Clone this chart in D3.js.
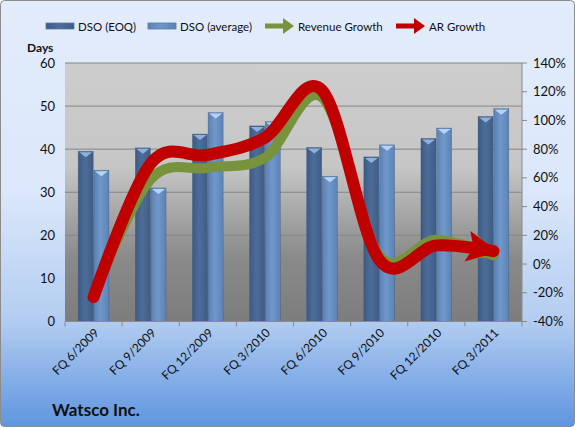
<!DOCTYPE html>
<html>
<head>
<meta charset="utf-8">
<script src="https://cdn.jsdelivr.net/npm/d3@7"></script>
<style>
body { margin: 0; }
text { font-family: Lato, "Open Sans", sans-serif; fill: #111; }
</style>
</head>
<body>
<script>
var width = 575, height = 427;
var margin = {top: 63, right: 53, bottom: 105.5, left: 65};

// data
var quarters = ["FQ 6/2009", "FQ 9/2009", "FQ 12/2009", "FQ 3/2010", "FQ 6/2010", "FQ 9/2010", "FQ 12/2010", "FQ 3/2011"];
var dsoEoq = [39.5, 40.3, 43.5, 45.4, 40.4, 38.2, 42.5, 47.6];
var dsoAvg = [35.1, 31.0, 48.5, 46.4, 33.7, 41.0, 44.9, 49.4];
var revenueGrowth = [-21, 59, 67, 74, 116, 6, 17, 6];
var arGrowth = [-23, 70, 76, 88, 121, 3, 13, 9];
var leftTicks = [0, 10, 20, 30, 40, 50, 60];
var rightTicks = [-40, -20, 0, 20, 40, 60, 80, 100, 120, 140];

var w = width - margin.left - margin.right;
var h = height - margin.top - margin.bottom;

var svg = d3.select("body").append("svg")
    .attr("width", width)
    .attr("height", height);

var defs = svg.append("defs");

var bg = defs.append("linearGradient").attr("id", "bg").attr("x1", 0).attr("y1", 0).attr("x2", 0).attr("y2", 1);
bg.append("stop").attr("offset", "0%").attr("stop-color", "#e2ecfb");
bg.append("stop").attr("offset", "45%").attr("stop-color", "#dbe7fa");
bg.append("stop").attr("offset", "75%").attr("stop-color", "#b3cdf1");
bg.append("stop").attr("offset", "100%").attr("stop-color", "#5f95df");

var pg = defs.append("linearGradient").attr("id", "plotbg").attr("x1", 0).attr("y1", 0).attr("x2", 0).attr("y2", 1);
pg.append("stop").attr("offset", "0%").attr("stop-color", "#cdcdcd");
pg.append("stop").attr("offset", "40%").attr("stop-color", "#c6c6c6");
pg.append("stop").attr("offset", "75%").attr("stop-color", "#8a8a8a");
pg.append("stop").attr("offset", "100%").attr("stop-color", "#7d7d7d");

function barGrad(id, c1, c2, c3) {
    var g = defs.append("linearGradient").attr("id", id).attr("x1", 0).attr("y1", 0).attr("x2", 1).attr("y2", 0);
    g.append("stop").attr("offset", "0%").attr("stop-color", c1);
    g.append("stop").attr("offset", "45%").attr("stop-color", c2);
    g.append("stop").attr("offset", "100%").attr("stop-color", c3);
}
barGrad("eoq", "#3d5a82", "#4d6d99", "#3f5c85");
barGrad("avg", "#5b80b2", "#7098cb", "#5d82b4");

function arrowMarker(id, color) {
    defs.append("marker")
        .attr("id", id)
        .attr("viewBox", "0 0 10 10")
        .attr("refX", 8.5).attr("refY", 5)
        .attr("markerWidth", 2.6).attr("markerHeight", 2.6)
        .attr("orient", "auto")
      .append("path")
        .attr("d", "M0,0 L10,5 L0,10 L2,5 Z")
        .attr("fill", color);
}
arrowMarker("arrowGreen", "#77933c");
arrowMarker("arrowRed", "#c00000");

// chart background
svg.append("rect")
    .attr("x", 0.5).attr("y", 0.5)
    .attr("width", width - 1).attr("height", height - 1)
    .attr("rx", 4)
    .attr("fill", "url(#bg)")
    .attr("stroke", "#8c8c8c");

var g = svg.append("g")
    .attr("transform", "translate(" + margin.left + "," + margin.top + ")");

var x = d3.scaleBand().domain(quarters).range([0, w]);
var x1 = d3.scaleBand().domain(["eoq", "avg"]).range([x.bandwidth() / 2 - 16, x.bandwidth() / 2 + 16]).padding(0.04);
var y = d3.scaleLinear().domain([0, 60]).range([h, 0]);
var y2 = d3.scaleLinear().domain([-40, 140]).range([h, 0]);

g.append("rect")
    .attr("width", w).attr("height", h)
    .attr("fill", "url(#plotbg)");

// gridlines
g.selectAll(".grid").data(leftTicks.slice(1))
    .enter().append("line")
    .attr("x1", 0).attr("x2", w)
    .attr("y1", d => y(d)).attr("y2", d => y(d))
    .attr("stroke", "#858585").attr("stroke-width", 1);

// bars
var series = [
    {key: "eoq", values: dsoEoq, cap: "#8fb0dc"},
    {key: "avg", values: dsoAvg, cap: "#b5d3f5"}
];
series.forEach(function (s) {
    var bars = g.selectAll(".bar-" + s.key).data(s.values)
        .enter().append("g");
    bars.append("rect")
        .attr("x", (d, i) => x(quarters[i]) + x1(s.key))
        .attr("y", d => y(d))
        .attr("width", x1.bandwidth())
        .attr("height", d => h - y(d))
        .attr("fill", "url(#" + s.key + ")")
        .attr("stroke", "#35507a").attr("stroke-opacity", 0.5).attr("stroke-width", 0.6);
    bars.append("path")
        .attr("d", function (d, i) {
            var bx = x(quarters[i]) + x1(s.key), bw = x1.bandwidth(), by = y(d);
            return "M" + (bx + 1) + "," + (by + 1) + "L" + (bx + bw - 1) + "," + (by + 1) +
                "L" + (bx + bw / 2) + "," + (by + 6) + "Z";
        })
        .attr("fill", s.cap);
});

// axes
var bottom = g.append("g").attr("transform", "translate(0," + h + ")");
bottom.append("line").attr("x1", 0).attr("x2", w).attr("stroke", "#8a8a8a");
bottom.selectAll(".tk").data(d3.range(quarters.length + 1))
    .enter().append("line")
    .attr("x1", d => d * x.step()).attr("x2", d => d * x.step())
    .attr("y1", 0).attr("y2", 5)
    .attr("stroke", "#8a8a8a");
bottom.selectAll(".lbl").data(quarters)
    .enter().append("text")
    .attr("transform", d => "translate(" + (x(d) + x.bandwidth() / 2 + 6) + ",12) rotate(-45)")
    .attr("text-anchor", "end")
    .style("font-size", "12px")
    .text(d => d);

var left = g.append("g");
left.selectAll("text").data(leftTicks)
    .enter().append("text")
    .attr("x", -10).attr("y", d => y(d) + 4.5)
    .attr("text-anchor", "end")
    .style("font-size", "13px")
    .text(d => d);

var right = g.append("g").attr("transform", "translate(" + w + ",0)");
right.append("line").attr("y1", 0).attr("y2", h).attr("stroke", "#8a8a8a");
right.selectAll("line.t").data(rightTicks)
    .enter().append("line").attr("class", "t")
    .attr("x1", 0).attr("x2", 5)
    .attr("y1", d => y2(d)).attr("y2", d => y2(d))
    .attr("stroke", "#8a8a8a");
right.selectAll("text").data(rightTicks)
    .enter().append("text")
    .attr("x", 11).attr("y", d => y2(d) + 4.5)
    .style("font-size", "13px")
    .text(d => d + "%");

// growth lines
var line = d3.line()
    .x((d, i) => x(quarters[i]) + x.bandwidth() / 2)
    .y(d => y2(d))
    .curve(d3.curveCatmullRom.alpha(0));

g.append("path")
    .datum(revenueGrowth)
    .attr("fill", "none")
    .attr("stroke", "#77933c")
    .attr("stroke-width", 10)
    .attr("stroke-linecap", "round")
    .attr("marker-end", "url(#arrowGreen)")
    .attr("d", line);

g.append("path")
    .datum(arGrowth)
    .attr("fill", "none")
    .attr("stroke", "#c00000")
    .attr("stroke-width", 12)
    .attr("stroke-linecap", "round")
    .attr("marker-end", "url(#arrowRed)")
    .attr("d", line);

// titles
svg.append("text")
    .attr("x", 27).attr("y", 52)
    .style("font-size", "12px").style("font-weight", "bold")
    .text("Days");

svg.append("text")
    .attr("x", 52).attr("y", 416)
    .style("font-size", "17px").style("font-weight", "bold")
    .text("Watsco Inc.");

// legend
var legend = svg.append("g").attr("transform", "translate(0,26)");
var legendItems = [
    {label: "DSO (EOQ)", type: "bar", fill: "url(#eoq)", x: 46},
    {label: "DSO (average)", type: "bar", fill: "url(#avg)", x: 148},
    {label: "Revenue Growth", type: "arrow", fill: "#77933c", x: 265},
    {label: "AR Growth", type: "arrow", fill: "#c00000", x: 396}
];
legendItems.forEach(function (it) {
    if (it.type === "bar") {
        legend.append("rect")
            .attr("x", it.x).attr("y", -3).attr("width", 28).attr("height", 6)
            .attr("fill", it.fill).attr("stroke", "#5a7aa8").attr("stroke-width", 0.8);
        legend.append("text")
            .attr("x", it.x + 32).attr("y", 4.5)
            .style("font-size", "11.5px").text(it.label);
    } else {
        legend.append("path")
            .attr("d", "M" + it.x + ",-2.5 L" + (it.x + 18) + ",-2.5 L" + (it.x + 18) + ",-8 L" + (it.x + 29) + ",0 L" +
                (it.x + 18) + ",8 L" + (it.x + 18) + ",2.5 L" + it.x + ",2.5 Z")
            .attr("fill", it.fill);
        legend.append("text")
            .attr("x", it.x + 33).attr("y", 4.5)
            .style("font-size", "11.5px").text(it.label);
    }
});
</script>
</body>
</html>
